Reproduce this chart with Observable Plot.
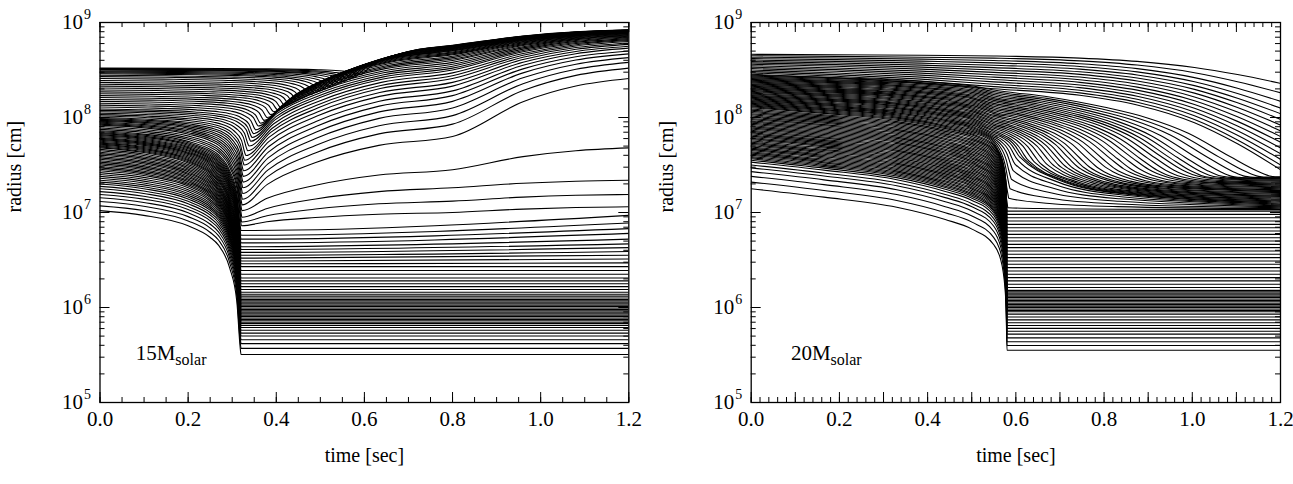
<!DOCTYPE html>
<html>
<head>
<meta charset="utf-8">
<script src="https://cdn.jsdelivr.net/npm/d3@7"></script>
<script src="https://cdn.jsdelivr.net/npm/@observablehq/plot@0.6"></script>
<style>
  body { margin: 0; background: #fff; }
  #charts { display: flex; width: 1293px; height: 484px; overflow: hidden; }
  #charts svg { flex: none; }
</style>
</head>
<body>
<div id="charts"></div>
<script>
// Mass-shell trajectories, radius [cm] vs time [sec], for two progenitors.
// Radii are stored as log10(r).

const tEnd = 1.2, tMid = 0.8;

// ---------- 15 solar masses ----------
const bounce15 = 0.32;
// inner core shells: radius at t = 0, right after bounce, and at 1.2 s
const core15LogR0 = [7.02, 7.07, 7.115, 7.155, 7.19, 7.22, 7.25, 7.275, 7.30, 7.32, 7.34, 7.36, 7.38, 7.40, 7.42,
  7.44, 7.455, 7.47, 7.485, 7.50, 7.515, 7.53, 7.545, 7.56, 7.575, 7.59, 7.605, 7.62, 7.635, 7.65, 7.665, 7.68,
  7.69, 7.70, 7.71, 7.72, 7.73, 7.74, 7.75, 7.76, 7.77, 7.78, 7.79, 7.80, 7.81, 7.82, 7.83, 7.84, 7.85, 7.86];
const core15LogRBounce = [5.505, 5.57, 5.62, 5.66, 5.70, 5.73, 5.76, 5.79, 5.81, 5.83, 5.845, 5.86, 5.875, 5.89, 5.905,
  5.92, 5.935, 5.95, 5.965, 5.98, 5.995, 6.01, 6.025, 6.04, 6.055, 6.07, 6.085, 6.10, 6.12, 6.14, 6.16, 6.19,
  6.22, 6.25, 6.28, 6.31, 6.35, 6.39, 6.43, 6.46, 6.49, 6.52, 6.55, 6.58, 6.61, 6.64, 6.68, 6.72, 6.76, 6.81];
const core15LogREnd = [5.505, 5.57, 5.62, 5.66, 5.70, 5.73, 5.76, 5.79, 5.81, 5.83, 5.845, 5.86, 5.875, 5.89, 5.905,
  5.92, 5.935, 5.95, 5.965, 5.98, 5.995, 6.01, 6.025, 6.04, 6.055, 6.07, 6.085, 6.10, 6.12, 6.14, 6.16, 6.19,
  6.22, 6.25, 6.28, 6.31, 6.35, 6.39, 6.43, 6.47, 6.51, 6.55, 6.59, 6.63, 6.67, 6.72, 6.78, 6.83, 6.89, 6.97];
// outer shells: start radius, time and radius where the shock turns them around, radius at 0.8 s and at 1.2 s
const outer15LogR0 = [7.875, 7.89, 7.905, 7.92,
  7.93, 7.94, 7.95, 7.96, 7.97, 7.98, 7.99, 8.00, 8.015, 8.03, 8.045, 8.06, 8.075, 8.09, 8.11, 8.13, 8.15, 8.17,
  8.19, 8.21, 8.23, 8.25, 8.27, 8.29, 8.31, 8.33, 8.35, 8.37, 8.39, 8.41, 8.43, 8.445, 8.46, 8.47, 8.48, 8.49,
  8.50, 8.505, 8.51, 8.515, 8.52];
const outer15TShock = [0.321, 0.3215, 0.322, 0.322,
  0.3225, 0.323, 0.3235, 0.324, 0.3245, 0.325, 0.3255, 0.327, 0.328, 0.331, 0.335, 0.338, 0.342, 0.345, 0.348,
  0.353, 0.359, 0.364, 0.372, 0.379, 0.387, 0.394, 0.403, 0.411, 0.42, 0.429, 0.438, 0.447, 0.456, 0.465, 0.476,
  0.487, 0.498, 0.509, 0.52, 0.531, 0.542, 0.553, 0.564, 0.575, 0.59];
const outer15LogRShock = [6.86, 6.90, 6.95, 7.02,
  7.08, 7.14, 7.20, 7.26, 7.32, 7.38, 7.44, 7.50, 7.55, 7.60, 7.65, 7.70, 7.75, 7.79, 7.83, 7.87, 7.91, 7.94,
  7.97, 8.00, 8.03, 8.06, 8.08, 8.10, 8.12, 8.14, 8.16, 8.18, 8.20, 8.22, 8.24, 8.26, 8.28, 8.30, 8.32, 8.34,
  8.36, 8.38, 8.40, 8.42, 8.45];
const outer15LogR08 = [7.00, 7.12, 7.26, 7.45,
  7.80, 7.93, 8.02, 8.10, 8.17, 8.23, 8.28, 8.33, 8.37, 8.41, 8.44, 8.47, 8.50, 8.52, 8.54, 8.56, 8.58, 8.60,
  8.615, 8.63, 8.645, 8.66, 8.67, 8.68, 8.69, 8.70, 8.705, 8.71, 8.715, 8.72, 8.725, 8.73, 8.735, 8.74, 8.743,
  8.746, 8.749, 8.752, 8.755, 8.758, 8.76];
const outer15LogREnd = [7.06, 7.19, 7.34, 7.68,
  8.41, 8.52, 8.58, 8.63, 8.67, 8.70, 8.73, 8.75, 8.77, 8.785, 8.80, 8.81, 8.82, 8.83, 8.84, 8.848, 8.855, 8.862,
  8.868, 8.874, 8.879, 8.884, 8.888, 8.892, 8.895, 8.897, 8.899, 8.901, 8.903, 8.905, 8.907, 8.909, 8.911, 8.913,
  8.915, 8.917, 8.918, 8.919, 8.920, 8.921, 8.922];
// path shapes: [fraction of the time span, fraction of the log-radius change]
const infall15 = [[0, 0], [0.31, 0.033], [0.625, 0.106], [0.78, 0.185], [0.84, 0.24], [0.92, 0.40], [0.97, 0.63], [0.994, 0.95], [1, 1]];
const rise15 = [[0, 0], [0.12, 0.3], [0.35, 0.62], [0.65, 0.87], [1, 1]];
const coast15 = [[0, 0], [0.4, 0.6], [0.7, 0.87], [1, 1]];

// ---------- 20 solar masses ----------
const tPre20 = 0.55, bounce20 = 0.58;
// inner core: radius at t = 0, at 0.55 s (before the final plunge) and after bounce
const core20LogR0 = [7.25, 7.32, 7.38, 7.43, 7.47, 7.50, 7.53, 7.55, 7.565, 7.578, 7.59, 7.603, 7.615, 7.628,
  7.64, 7.653, 7.665, 7.678, 7.69, 7.703, 7.715, 7.728, 7.74, 7.753, 7.765, 7.778, 7.79, 7.803, 7.815, 7.828,
  7.84, 7.853, 7.865, 7.878, 7.89, 7.903, 7.915, 7.928, 7.94, 7.953, 7.965, 7.978, 7.99, 8.003, 8.015, 8.028,
  8.04, 8.053, 8.065, 8.078, 8.09, 8.103];
const core20LogRPre = [6.66, 6.735, 6.80, 6.855, 6.90, 6.935, 6.97, 6.995, 7.015, 7.031, 7.047, 7.063, 7.079,
  7.095, 7.111, 7.127, 7.143, 7.159, 7.175, 7.191, 7.207, 7.223, 7.239, 7.255, 7.271, 7.287, 7.303, 7.319,
  7.335, 7.351, 7.367, 7.383, 7.399, 7.415, 7.431, 7.447, 7.463, 7.479, 7.495, 7.511, 7.527, 7.543, 7.559,
  7.575, 7.591, 7.607, 7.623, 7.639, 7.655, 7.671, 7.687, 7.703];
const core20LogRFinal = [5.55, 5.60, 5.64, 5.68, 5.72, 5.75, 5.78, 5.81, 5.84, 5.87, 5.90, 5.93, 5.955,
  5.97, 5.985, 6.00, 6.015, 6.03, 6.045, 6.06, 6.075, 6.09, 6.105, 6.12, 6.135, 6.15, 6.165, 6.18,
  6.21, 6.245, 6.28, 6.315, 6.35, 6.385, 6.42, 6.455, 6.49, 6.525, 6.56, 6.595, 6.63, 6.665, 6.70, 6.735,
  6.77, 6.805, 6.84, 6.875, 6.91, 6.945, 6.98, 7.015];
// shells that reach the stalled shock before 1.2 s
const accreted20LogR0 = [8.113, 8.122, 8.131, 8.140, 8.149, 8.158, 8.167, 8.176, 8.185, 8.194, 8.203, 8.212,
  8.221, 8.230, 8.239, 8.248, 8.257, 8.266, 8.275, 8.284, 8.293, 8.302, 8.311, 8.320, 8.329, 8.338, 8.347,
  8.356, 8.365, 8.374, 8.383, 8.392, 8.401, 8.410, 8.419, 8.428, 8.437, 8.446];
const accreted20LogRPre = [7.715, 7.731, 7.746, 7.762, 7.777, 7.793, 7.808, 7.824, 7.839, 7.855, 7.870, 7.886,
  7.901, 7.917, 7.932, 7.948, 7.963, 7.979, 7.994, 8.010, 8.025, 8.041, 8.056, 8.072, 8.087, 8.103, 8.118,
  8.134, 8.149, 8.165, 8.180, 8.196, 8.211, 8.227, 8.242, 8.258, 8.273, 8.289];
const accreted20TShock = [0.582, 0.584, 0.587, 0.590, 0.594, 0.598, 0.603, 0.61, 0.62, 0.63, 0.645, 0.66, 0.675,
  0.69, 0.705, 0.72, 0.735, 0.75, 0.765, 0.78, 0.80, 0.82, 0.84, 0.86, 0.88, 0.90, 0.92, 0.94, 0.96, 0.98, 1.00,
  1.02, 1.04, 1.06, 1.09, 1.12, 1.15, 1.18];
const accreted20LogRShock = [7.05, 7.15, 7.25, 7.35, 7.44, 7.51, 7.56, 7.58, 7.56, 7.54, 7.52, 7.50, 7.49, 7.48,
  7.47, 7.46, 7.45, 7.45, 7.44, 7.44, 7.43, 7.43, 7.42, 7.42, 7.41, 7.41, 7.41, 7.40, 7.40, 7.40, 7.40, 7.39,
  7.39, 7.39, 7.38, 7.38, 7.38, 7.38];
const accreted20LogREnd = [7.03, 7.04, 7.05, 7.06, 7.07, 7.08, 7.09, 7.10, 7.11, 7.12, 7.13, 7.14, 7.15, 7.16,
  7.17, 7.18, 7.19, 7.20, 7.21, 7.22, 7.23, 7.24, 7.25, 7.26, 7.27, 7.28, 7.29, 7.30, 7.31, 7.32, 7.33, 7.34,
  7.35, 7.355, 7.36, 7.365, 7.37, 7.375];
// shells still falling at 1.2 s
const falling20LogR0 = [8.455, 8.47, 8.485, 8.50, 8.515, 8.53, 8.545, 8.56, 8.575, 8.59, 8.605, 8.62, 8.635, 8.65, 8.665];
const falling20LogRPre = [8.303, 8.325, 8.35, 8.375, 8.40, 8.425, 8.45, 8.475, 8.50, 8.525, 8.55, 8.575, 8.60, 8.625, 8.648];
const falling20LogREnd = [7.45, 7.50, 7.56, 7.62, 7.68, 7.74, 7.80, 7.86, 7.92, 7.98, 8.04, 8.10, 8.17, 8.26, 8.36];
// path shapes: [fraction of the time span, fraction of the log-radius change]
const pre20 = [[0, 0], [0.3, 0.15], [0.6, 0.33], [0.8, 0.55], [0.91, 0.72], [1, 1]];
const drift20 = [[0, 0], [0.35, 0.25], [0.7, 0.6], [1, 1]];
const plunge20 = [[0, 0], [0.25, 0.05], [0.5, 0.13], [0.7, 0.25], [0.85, 0.42], [0.93, 0.6], [1, 1]];
const late20 = [[0, 0], [0.2, 0.08], [0.4, 0.2], [0.55, 0.32], [0.7, 0.5], [0.85, 0.77], [0.95, 0.94], [1, 1]];
const settle20 = [[0, 0], [0.15, 0.5], [0.4, 0.8], [1, 1]];
const descent20 = [[0, 0], [0.3, 0.08], [0.5, 0.2], [0.7, 0.42], [0.85, 0.68], [1, 1]];

// ---------- axes ----------
const decades = [5, 6, 7, 8, 9];
const mantissas = [2, 3, 4, 5, 6, 7, 8, 9];
const timeLabels = [0, 0.2, 0.4, 0.6, 0.8, 1.0, 1.2];
const panels = [
  {width: 646, marginLeft: 99.5, marginRight: 17.7, major: [0, 0.2, 0.4, 0.6, 0.8, 1.0, 1.2], minorStep: 0.05,
   label: {t: 0.171, r: 3.3e5, text: "15M", sub: "solar"}},
  {width: 647, marginLeft: 104.7, marginRight: 13, major: [0, 0.1, 0.2, 0.3, 0.4, 0.5, 0.6, 0.7, 0.8, 0.9, 1.0, 1.1, 1.2], minorStep: 0.02,
   label: {t: 0.18, r: 3.3e5, text: "20M", sub: "solar"}}
];

// one piece of a shell path, following a shape between two (t, log r) points
function segment(shape, t0, t1, lrA, lrB) {
  return shape.map(([ft, fr]) => ({t: t0 + ft * (t1 - t0), r: 10 ** (lrA + fr * (lrB - lrA))}));
}
const at = (t, lr) => ({t, r: 10 ** lr});

function shells15() {
  const rows = [];
  const add = (pts, id) => pts.forEach(p => rows.push({...p, shell: id}));
  core15LogR0.forEach((lr0, i) => {
    const lrB = core15LogRBounce[i];
    add([...segment(infall15, 0, bounce15, lr0, lrB), at(tEnd, core15LogREnd[i])], "c" + i);
  });
  outer15LogR0.forEach((lr0, i) => {
    const ts = outer15TShock[i], lrs = outer15LogRShock[i], lrm = outer15LogR08[i];
    add([...segment(infall15, 0, ts, lr0, lrs),
         ...segment(rise15, ts, tMid, lrs, lrm).slice(1),
         ...segment(coast15, tMid, tEnd, lrm, outer15LogREnd[i]).slice(1)], "o" + i);
  });
  return rows;
}

function shells20() {
  const rows = [];
  const add = (pts, id) => pts.forEach(p => rows.push({...p, shell: id}));
  core20LogR0.forEach((lr0, i) => {
    const lrP = core20LogRPre[i], lrF = core20LogRFinal[i];
    add([...segment(pre20, 0, tPre20, lr0, lrP),
         ...segment(plunge20, tPre20, bounce20, lrP, lrF).slice(1),
         at(tEnd, lrF)], "c" + i);
  });
  accreted20LogR0.forEach((lr0, i) => {
    const lrP = accreted20LogRPre[i], ts = accreted20TShock[i], lrs = accreted20LogRShock[i];
    add([...segment(pre20, 0, tPre20, lr0, lrP),
         ...segment(late20, tPre20, ts, lrP, lrs).slice(1),
         ...segment(settle20, ts, tEnd, lrs, accreted20LogREnd[i]).slice(1)], "a" + i);
  });
  falling20LogR0.forEach((lr0, i) => {
    const lrP = falling20LogRPre[i];
    add([...segment(drift20, 0, tPre20, lr0, lrP),
         ...segment(descent20, tPre20, tEnd, lrP, falling20LogREnd[i]).slice(1)], "f" + i);
  });
  return rows;
}

const font = "Liberation Serif, Times New Roman, serif";
const height = 484, marginTop = 22, marginBottom = 82;
const plotH = height - marginTop - marginBottom;
const yMinor = decades.slice(0, -1).flatMap(d => mantissas.map(m => m * 10 ** d));
const yMajor = decades.map(d => 10 ** d);

function drawPanel(p, rows) {
  const plotW = p.width - p.marginLeft - p.marginRight;
  const xMinor = d3.range(0, Math.round(tEnd / p.minorStep) + 1).map(i => i * p.minorStep);
  const small = 5, big = 10;
  return Plot.plot({
    width: p.width, height, marginTop, marginBottom, marginLeft: p.marginLeft, marginRight: p.marginRight,
    style: {fontFamily: font, background: "white", color: "black", overflow: "visible"},
    x: {domain: [0, tEnd], axis: null},
    y: {type: "log", domain: [1e5, 1e9], axis: null},
    marks: [
      Plot.line(rows, {x: "t", y: "r", z: "shell", curve: "monotone-x", stroke: "black", strokeWidth: 1.1, clip: true}),
      // inward ticks on all four sides
      Plot.ruleX(xMinor, {x: d => d, insetTop: plotH - small, stroke: "black"}),
      Plot.ruleX(xMinor, {x: d => d, insetBottom: plotH - small, stroke: "black"}),
      Plot.ruleX(p.major, {x: d => d, insetTop: plotH - big, stroke: "black"}),
      Plot.ruleX(p.major, {x: d => d, insetBottom: plotH - big, stroke: "black"}),
      Plot.ruleY(yMinor, {y: d => d, insetRight: plotW - small, stroke: "black"}),
      Plot.ruleY(yMinor, {y: d => d, insetLeft: plotW - small, stroke: "black"}),
      Plot.ruleY(yMajor, {y: d => d, insetRight: plotW - big, stroke: "black"}),
      Plot.ruleY(yMajor, {y: d => d, insetLeft: plotW - big, stroke: "black"}),
      Plot.frame({stroke: "black", strokeWidth: 1.3}),
      // tick labels
      Plot.text(timeLabels, {x: d => d, text: d => d.toFixed(1), frameAnchor: "bottom", dy: 17, lineAnchor: "middle", fontSize: 21}),
      Plot.text(decades, {y: d => 10 ** d, text: () => "10", frameAnchor: "left", dx: -17, textAnchor: "end", lineAnchor: "middle", fontSize: 21}),
      Plot.text(decades, {y: d => 10 ** d, text: d => String(d), frameAnchor: "left", dx: -16, dy: -8, textAnchor: "start", lineAnchor: "middle", fontSize: 14}),
      // axis titles
      Plot.text(["time [sec]"], {frameAnchor: "bottom", dy: 53, lineAnchor: "middle", fontSize: 20}),
      Plot.text(["radius [cm]"], {frameAnchor: "left", dx: -85, rotate: -90, lineAnchor: "middle", fontSize: 20}),
      // progenitor mass
      Plot.text([p.label], {x: "t", y: "r", text: "text", textAnchor: "end", lineAnchor: "middle", fontSize: 21}),
      Plot.text([p.label], {x: "t", y: "r", text: "sub", textAnchor: "start", lineAnchor: "middle", dy: 7, fontSize: 16, letterSpacing: "-0.5px"})
    ]
  });
}

const host = document.getElementById("charts");
host.appendChild(drawPanel(panels[0], shells15()));
host.appendChild(drawPanel(panels[1], shells20()));
</script>
</body>
</html>
